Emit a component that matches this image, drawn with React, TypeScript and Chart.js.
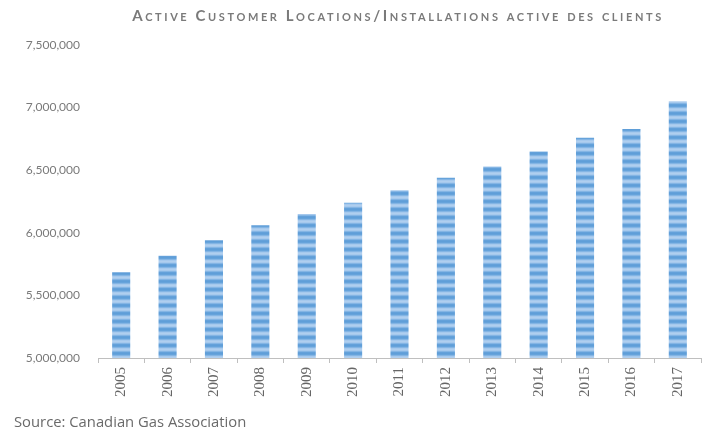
import React, { useEffect, useRef } from "react";
import { Chart, registerables } from "chart.js";

Chart.register(...registerables);

const years = ["2005", "2006", "2007", "2008", "2009", "2010", "2011", "2012", "2013", "2014", "2015", "2016", "2017"];
const locations = [5684000, 5817000, 5940000, 6060000, 6150000, 6240000, 6340000, 6440000, 6530000, 6650000, 6760000, 6830000, 7050000];
const yMin = 5000000;
const yMax = 7500000;
const yStep = 500000;
const titleText = "Active Customer Locations/Installations active des clients";
const sourceText = "Source: Canadian Gas Association";

function makePattern(): CanvasPattern | string {
  const c = document.createElement("canvas");
  c.width = 8;
  c.height = 8;
  const g = c.getContext("2d");
  if (!g) return "#6fa8dc";
  const rows = ["#64a1da", "#5f9ed8", "#66a3db", "#84b5e4", "#a6c9ed", "#b0cfef", "#a6c9ed", "#84b5e4"];
  rows.forEach((col, i) => {
    g.fillStyle = col;
    g.fillRect(0, i, 8, 1);
  });
  const p = g.createPattern(c, "repeat");
  return p || "#6fa8dc";
}

export default function App() {
  const ref = useRef<HTMLCanvasElement | null>(null);

  useEffect(() => {
    if (!ref.current) return;
    const pattern = makePattern();
    const chart = new Chart(ref.current, {
      type: "bar",
      data: {
        labels: years,
        datasets: [
          {
            data: locations,
            backgroundColor: pattern as any,
            barPercentage: 0.39,
            categoryPercentage: 1,
          },
        ],
      },
      options: {
        animation: false,
        responsive: false,
        layout: { padding: { top: 45, right: 11, left: 0, bottom: 0 } },
        plugins: {
          legend: { display: false },
          tooltip: { enabled: false },
          title: { display: false },
        },
        scales: {
          y: {
            min: yMin,
            max: yMax,
            grid: { display: false, drawTicks: false },
            border: { display: false },
            ticks: {
              stepSize: yStep,
              padding: 18,
              color: "#7a7a7a",
              font: { family: "Lato", size: 12 },
              callback: (v: any) => Number(v).toLocaleString("en-US"),
            },
            afterFit: (s: any) => {
              s.width = 98;
            },
          },
          x: {
            offset: true,
            grid: {
              offset: true,
              drawOnChartArea: false,
              drawTicks: true,
              tickLength: 5,
              color: "#bfbfbf",
            },
            border: { display: true, color: "#bfbfbf", width: 1 },
            ticks: {
              minRotation: 90,
              maxRotation: 90,
              padding: 4,
              color: "#666666",
              font: { family: "Liberation Serif", size: 15 },
            },
            afterFit: (s: any) => {
              s.height = 76;
            },
          },
        },
      },
    });
    return () => chart.destroy();
  }, []);

  return (
    <div style={{ position: "fixed", left: 0, top: 0, width: 712, height: 434, background: "#fff", overflow: "hidden" }}>
      <canvas ref={ref} width={712} height={434} style={{ position: "absolute", left: 0, top: 0, width: 712, height: 434 }} />
      <div
        style={{
          position: "absolute",
          left: 0,
          width: 796,
          top: 6,
          textAlign: "center",
          fontFamily: "Lato",
          fontWeight: 700,
          fontSize: 15,
          fontVariant: "small-caps",
          letterSpacing: 2.6,
          color: "#7a7a7a",
          whiteSpace: "nowrap",
        }}
      >
        {titleText}
      </div>
      <div
        style={{
          position: "absolute",
          left: 14,
          top: 411,
          fontFamily: "Open Sans",
          fontSize: 14.8,
          color: "#6a6a6a",
          whiteSpace: "nowrap",
        }}
      >
        {sourceText}
      </div>
    </div>
  );
}
